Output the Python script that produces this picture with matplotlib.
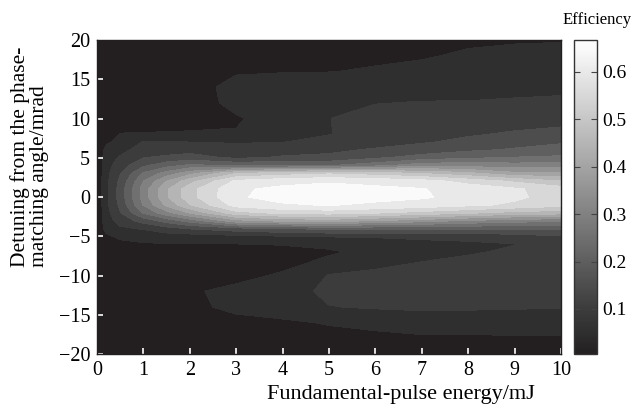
import numpy as np
import matplotlib
matplotlib.use("Agg")
import matplotlib.pyplot as plt
from matplotlib.colors import LinearSegmentedColormap, Normalize
from matplotlib.cm import ScalarMappable

plt.rcParams['font.family'] = ['Liberation Serif', 'DejaVu Serif']

# fundamental-pulse energy (mJ), columns of the table
energy = [0, 0.2, 0.5, 1, 1.5, 2, 3, 4, 5, 6, 7, 8, 9, 10]
# detuning (mrad), rows of the table
detuning = [-20, -18, -16, -14, -12, -10, -8, -7, -6, -5, -4, -3, -2, -1,
            0, 1, 2, 3, 4, 5, 6, 7, 8, 10, 12, 14, 16, 18, 20]
# conversion efficiency
efficiency = [
    [0.005, 0.01, 0.01, 0.015, 0.018, 0.02, 0.025, 0.03, 0.03, 0.032, 0.035, 0.035, 0.035, 0.035],
    [0.005, 0.01, 0.01, 0.015, 0.018, 0.022, 0.03, 0.038, 0.04, 0.042, 0.045, 0.045, 0.045, 0.045],
    [0.005, 0.01, 0.01, 0.015, 0.018, 0.025, 0.04, 0.045, 0.052, 0.058, 0.065, 0.066, 0.068, 0.07],
    [0.005, 0.01, 0.01, 0.015, 0.018, 0.042, 0.058, 0.065, 0.098, 0.105, 0.11, 0.108, 0.105, 0.102],
    [0.005, 0.01, 0.01, 0.015, 0.018, 0.045, 0.06, 0.075, 0.112, 0.125, 0.135, 0.133, 0.13, 0.125],
    [0.005, 0.01, 0.01, 0.015, 0.018, 0.025, 0.038, 0.055, 0.102, 0.115, 0.13, 0.135, 0.138, 0.14],
    [0.005, 0.01, 0.01, 0.015, 0.018, 0.025, 0.03, 0.035, 0.055, 0.075, 0.095, 0.11, 0.125, 0.135],
    [0.005, 0.015, 0.02, 0.03, 0.03, 0.03, 0.035, 0.035, 0.045, 0.06, 0.08, 0.092, 0.11, 0.13],
    [0.005, 0.02, 0.035, 0.047, 0.047, 0.047, 0.048, 0.052, 0.058, 0.07, 0.085, 0.09, 0.098, 0.12],
    [0.005, 0.04, 0.06, 0.06, 0.075, 0.075, 0.085, 0.095, 0.102, 0.105, 0.11, 0.115, 0.125, 0.145],
    [0.005, 0.065, 0.09, 0.105, 0.13, 0.152, 0.18, 0.198, 0.21, 0.21, 0.21, 0.205, 0.21, 0.205],
    [0.005, 0.075, 0.12, 0.17, 0.22, 0.27, 0.38, 0.41, 0.42, 0.395, 0.37, 0.34, 0.32, 0.305],
    [0.005, 0.08, 0.145, 0.252, 0.33, 0.402, 0.53, 0.56, 0.57, 0.552, 0.53, 0.505, 0.48, 0.47],
    [0.005, 0.085, 0.16, 0.302, 0.41, 0.495, 0.62, 0.645, 0.652, 0.642, 0.63, 0.61, 0.59, 0.565],
    [0.005, 0.085, 0.17, 0.32, 0.44, 0.53, 0.645, 0.663, 0.667, 0.662, 0.655, 0.635, 0.61, 0.575],
    [0.005, 0.085, 0.17, 0.32, 0.44, 0.53, 0.643, 0.66, 0.665, 0.66, 0.652, 0.632, 0.607, 0.573],
    [0.005, 0.085, 0.16, 0.298, 0.398, 0.48, 0.61, 0.635, 0.645, 0.635, 0.62, 0.58, 0.54, 0.502],
    [0.005, 0.083, 0.145, 0.255, 0.32, 0.38, 0.495, 0.52, 0.54, 0.52, 0.495, 0.46, 0.41, 0.41],
    [0.005, 0.08, 0.125, 0.19, 0.23, 0.26, 0.24, 0.24, 0.245, 0.28, 0.33, 0.33, 0.32, 0.32],
    [0.005, 0.075, 0.105, 0.148, 0.16, 0.17, 0.14, 0.155, 0.16, 0.19, 0.22, 0.24, 0.252, 0.26],
    [0.005, 0.065, 0.085, 0.12, 0.125, 0.13, 0.12, 0.13, 0.14, 0.155, 0.17, 0.19, 0.205, 0.215],
    [0.005, 0.04, 0.065, 0.102, 0.101, 0.099, 0.095, 0.098, 0.115, 0.13, 0.145, 0.16, 0.18, 0.195],
    [0.005, 0.02, 0.052, 0.053, 0.055, 0.055, 0.053, 0.075, 0.098, 0.12, 0.13, 0.145, 0.155, 0.162],
    [0.005, 0.01, 0.015, 0.02, 0.022, 0.03, 0.045, 0.07, 0.099, 0.118, 0.12, 0.125, 0.13, 0.135],
    [0.005, 0.01, 0.01, 0.015, 0.018, 0.028, 0.062, 0.072, 0.085, 0.098, 0.102, 0.102, 0.105, 0.108],
    [0.005, 0.01, 0.01, 0.015, 0.018, 0.03, 0.065, 0.068, 0.068, 0.075, 0.08, 0.085, 0.088, 0.09],
    [0.005, 0.01, 0.01, 0.015, 0.018, 0.025, 0.045, 0.048, 0.049, 0.053, 0.058, 0.07, 0.072, 0.075],
    [0.005, 0.01, 0.01, 0.015, 0.018, 0.022, 0.035, 0.038, 0.04, 0.044, 0.047, 0.054, 0.058, 0.06],
    [0.005, 0.01, 0.01, 0.015, 0.018, 0.02, 0.028, 0.03, 0.03, 0.033, 0.035, 0.045, 0.047, 0.048],
]
levels = [0, 0.05, 0.1, 0.15, 0.2, 0.25, 0.3, 0.35, 0.4, 0.45, 0.5, 0.55, 0.6, 0.65, 0.7]
cbar_ticks = [0.1, 0.2, 0.3, 0.4, 0.5, 0.6]

# grey level of each filled band (dark background up to the white core)
band_grey = [35, 47, 60, 77, 95, 112, 129, 147, 164, 181, 198, 216, 233, 250]
band_colors = ['#%02x%02x%02x' % (g, g, g) for g in band_grey]
band_colors[0] = '#231f20'

vmin, vmax = 0.005, 0.667
cmap = LinearSegmentedColormap.from_list(
    'eff', [(0.0, '#231f20'), ((0.05 - vmin) / (vmax - vmin), '#2f2f2f'),
            ((0.1 - vmin) / (vmax - vmin), '#3c3c3c'),
            ((0.65 - vmin) / (vmax - vmin), '#fafafa'), (1.0, '#fcfcfc')])

fig = plt.figure(figsize=(6.33, 4.12), dpi=100)
ax = fig.add_axes([0.1532, 0.1408, 0.733, 0.762])
cax = fig.add_axes([0.9068, 0.1408, 0.0363, 0.762])

X, Y = np.meshgrid(energy, detuning)
cs = ax.contourf(X, Y, np.array(efficiency), levels=levels, colors=band_colors)
cs.set_edgecolor('face')
cs.set_linewidth(0.4)

ax.set_xlim(0, 10)
ax.set_ylim(-20, 20)
ax.set_xticks(range(0, 11))
ax.set_yticks(range(-20, 21, 5))
ax.tick_params(direction='in', length=4, width=1.2, color='white',
               labelsize=14.5, pad=5)
for sp in ax.spines.values():
    sp.set_color('#231f20')
    sp.set_linewidth(1.0)

ax.set_xlabel('Fundamental-pulse energy/mJ', fontsize=16)
ax.xaxis.set_label_coords(0.655, -0.1)
ax.set_ylabel('Detuning from the phase-\nmatching angle/mrad', fontsize=15.5,
              linespacing=0.95, multialignment='left')
ax.yaxis.set_label_coords(-0.104, 0.629)

sm = ScalarMappable(norm=Normalize(vmin, vmax), cmap=cmap)
cb = fig.colorbar(sm, cax=cax, ticks=cbar_ticks)
cb.ax.tick_params(direction='in', length=4, width=0.8, color='#444444',
                  labelsize=14, left=True, right=True, pad=4)
cb.ax.set_yticklabels(['0.1', '0.2', '0.3', '0.4', '0.5', '0.6'])
cb.outline.set_edgecolor('#333333')
cb.outline.set_linewidth(1.0)

fig.text(0.944, 0.951, 'Efficiency', fontsize=12, ha='center', va='center')

fig.savefig('out.png', dpi=100)
